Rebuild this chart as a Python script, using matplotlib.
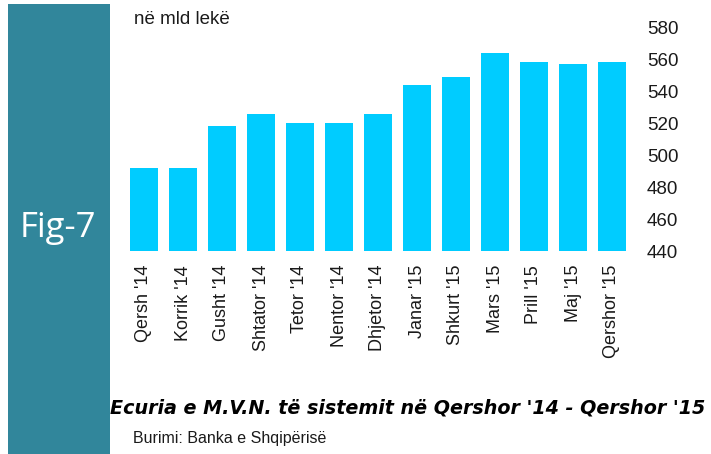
import matplotlib
matplotlib.use("Agg")
import matplotlib.pyplot as plt
from matplotlib import font_manager
from matplotlib.patches import Rectangle

categories = ["Qersh '14", "Korrik '14", "Gusht '14", "Shtator '14", "Tetor '14",
              "Nentor '14", "Dhjetor '14", "Janar '15", "Shkurt '15", "Mars '15",
              "Prill '15", "Maj '15", "Qershor '15"]
values = [492, 492, 518, 525.5, 520, 520, 525.5, 543.5, 549, 563.5, 558, 557, 558]
yticks = [440, 460, 480, 500, 520, 540, 560, 580]

def has_font(name):
    try:
        font_manager.findfont(name, fallback_to_default=False)
        return True
    except Exception:
        return False

narrow = "Liberation Sans Narrow" if has_font("Liberation Sans Narrow") else "Liberation Sans"

fig = plt.figure(figsize=(7.11, 4.54), dpi=100)

# teal side panel
fig.patches.append(Rectangle((8 / 711, 0), 102 / 711, 450 / 454, transform=fig.transFigure,
                             facecolor="#31869B", edgecolor="none", zorder=0))
fig.text(58 / 711, 1 - 228 / 454, "Fig-7", color="white", fontsize=25,
         family="Open Sans", weight="medium", ha="center", va="center")

ax = fig.add_axes([124.5 / 711, 1 - 251 / 454, 507 / 711, 224 / 454])
x = list(range(len(categories)))
ax.bar(x, values, width=0.72, color="#00CCFF", bottom=0)
ax.set_xlim(-0.5, len(categories) - 0.5)
ax.set_ylim(440, 580)
ax.set_yticks(yticks)
ax.yaxis.tick_right()
ax.tick_params(axis="y", length=0, pad=11, labelsize=13.5, labelcolor="#1a1a1a")
for lab in ax.get_yticklabels():
    lab.set_family("Liberation Sans")
ax.set_xticks(x)
ax.set_xticklabels(categories, rotation=90, family=narrow, fontsize=13, color="#1a1a1a")
ax.tick_params(axis="x", length=0, pad=10)
for s in ax.spines.values():
    s.set_visible(False)

fig.text(134 / 711, 1 - 19 / 454, "në mld lekë", fontsize=13.5, family="Liberation Sans",
         color="#1a1a1a", ha="left", va="center")
fig.text(110 / 711, 1 - 408 / 454, "Ecuria e M.V.N. të sistemit në Qershor '14 - Qershor '15",
         fontsize=13.8, family="DejaVu Sans", weight="bold", style="italic", color="black",
         ha="left", va="center")
fig.text(133 / 711, 1 - 438 / 454, "Burimi: Banka e Shqipërisë", fontsize=11.5, family=narrow,
         color="#1a1a1a", ha="left", va="center")

fig.savefig("out.png", dpi=100)
